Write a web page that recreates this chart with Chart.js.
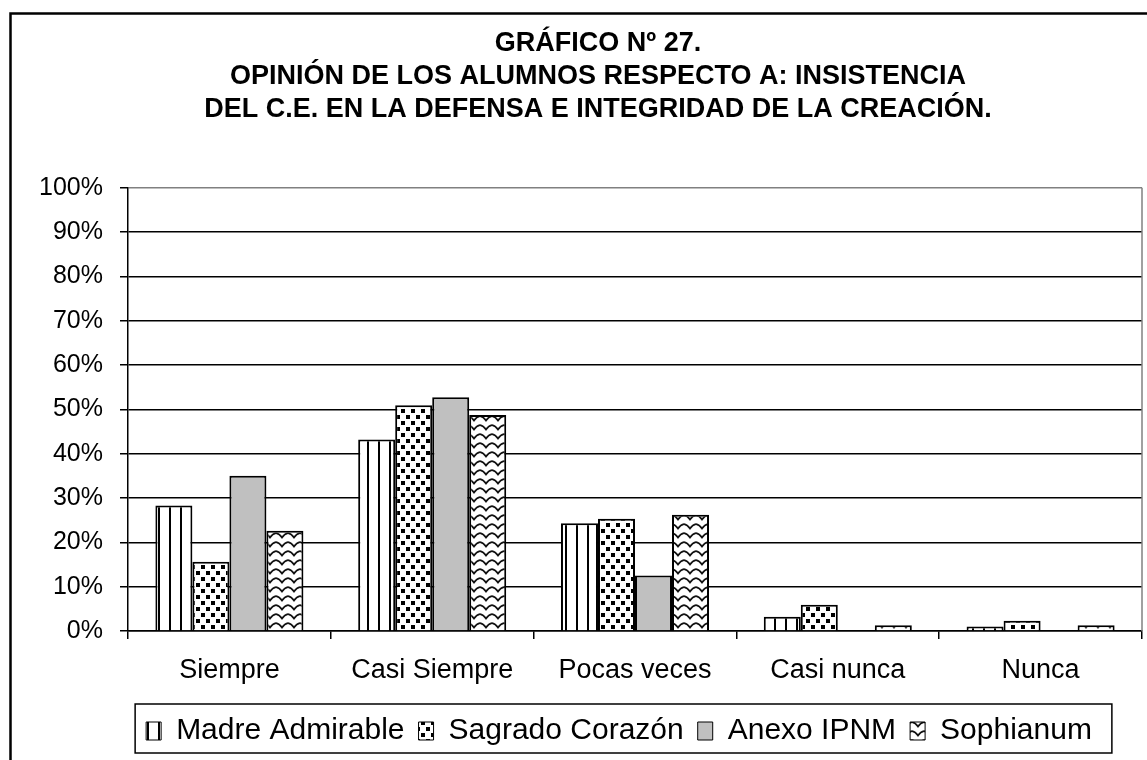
<!DOCTYPE html>
<html>
<head>
<meta charset="utf-8">
<script src="https://cdn.jsdelivr.net/npm/chart.js@4"></script>
<style>
  html, body { margin: 0; padding: 0; background: #fff; }
  #wrap { width: 1147px; height: 760px; }
</style>
</head>
<body>
<div id="wrap"><canvas id="chart-bars"></canvas></div>
<script>
const categories = ["Siempre", "Casi Siempre", "Pocas veces", "Casi nunca", "Nunca"];
const seriesNames = ["Madre Admirable", "Sagrado Corazón", "Anexo IPNM", "Sophianum"];

// percentages
const madreAdmirable = [28.3, 43.2, 24.3, 3.2, 1.0];
const sagradoCorazon = [15.6, 50.9, 25.3, 5.9, 2.3];
const anexoIpnm = [35.0, 52.7, 12.5, 0, 0];
const sophianum = [22.6, 48.7, 26.2, 1.3, 1.3];

const yTicks = [0, 10, 20, 30, 40, 50, 60, 70, 80, 90, 100];

const titleLines = [
	"GRÁFICO Nº 27.",
	"OPINIÓN DE LOS ALUMNOS RESPECTO A: INSISTENCIA",
	"DEL C.E. EN LA DEFENSA E INTEGRIDAD DE LA CREACIÓN.",
];

const FONT = "'Liberation Sans', Arial, sans-serif";
Chart.defaults.font.family = FONT;
Chart.defaults.color = "#000";

function makePattern(w, h, draw) {
	const c = document.createElement("canvas");
	c.width = w;
	c.height = h;
	const g = c.getContext("2d");
	g.fillStyle = "#fff";
	g.fillRect(0, 0, w, h);
	draw(g);
	return g.createPattern(c, "repeat");
}

const stripes = makePattern(11, 4, (g) => {
	g.fillStyle = "#000";
	g.fillRect(4, 0, 2, 4);
});

const dots = makePattern(10, 12, (g) => {
	g.fillStyle = "#000";
	g.fillRect(1, 1, 4, 4);
	g.fillRect(6, 7, 4, 4);
});

const waves = makePattern(12, 9, (g) => {
	g.strokeStyle = "#111";
	g.lineWidth = 1.8;
	g.beginPath();
	g.moveTo(-1, 2);
	g.quadraticCurveTo(3, 2, 6, 6.5);
	g.quadraticCurveTo(9, 2, 13, 2);
	g.stroke();
});

const fills = [stripes, dots, "#c0c0c0", waves];
const values = [madreAdmirable, sagradoCorazon, anexoIpnm, sophianum];

const titleShift = 12;
const legendShift = 33;
const legendPad = 14;

const chartDecor = {
	id: "chartDecor",
	beforeDraw(chart) {
		const { ctx } = chart;
		ctx.save();
		ctx.fillStyle = "#fff";
		ctx.fillRect(0, 0, chart.width, chart.height);
		ctx.strokeStyle = "#000";
		ctx.lineWidth = 2.5;
		ctx.strokeRect(10.5, 13.5, chart.width + 20, chart.height + 20);
		ctx.restore();
	},
	afterLayout(chart) {
		chart.titleBlock.left += titleShift;
		chart.titleBlock.right += titleShift;
		chart.legend.left += legendShift;
		chart.legend.right += legendShift;
	},
	afterDraw(chart) {
		const { ctx, chartArea, legend } = chart;
		ctx.save();
		// grey plot-area frame on the right
		ctx.strokeStyle = "#808080";
		ctx.lineWidth = 1.5;
		ctx.beginPath();
		ctx.moveTo(chartArea.right, chartArea.top);
		ctx.lineTo(chartArea.right, chartArea.bottom);
		ctx.stroke();

		// legend frame
		const lo = legend.options.labels;
		const fs = lo.font.size;
		ctx.font = `${fs}px ${FONT}`;
		let total = 0;
		legend.legendItems.forEach((it, i) => {
			total += lo.boxWidth + fs / 2 + ctx.measureText(it.text).width;
			if (i > 0) total += legendPad;
		});
		const start = (legend.left + legend.right) / 2 - total / 2;
		const cy = legend.top + legendPad + Math.max(fs, lo.boxHeight) / 2;
		ctx.strokeStyle = "#000";
		ctx.lineWidth = 1.5;
		ctx.strokeRect(start - 11, cy - 27, total + 31, 49);
		ctx.restore();
	},
};

const data = {
	labels: categories,
	datasets: seriesNames.map((name, i) => ({
		label: name,
		data: values[i],
		backgroundColor: fills[i],
		borderColor: "#000",
		borderWidth: 2,
		categoryPercentage: 0.73,
		barPercentage: 1,
	})),
};

const options = {
	responsive: true,
	maintainAspectRatio: false,
	animation: false,
	layout: {
		padding: { top: 27, left: 30, right: 5, bottom: 4 },
	},
	plugins: {
		title: {
			display: true,
			text: titleLines,
			color: "#000",
			font: { size: 27, weight: "bold", lineHeight: 1.23 },
			padding: { top: 0, bottom: 61 },
		},
		legend: {
			position: "bottom",
			labels: {
				boxWidth: 15,
				boxHeight: 18,
				padding: legendPad,
				color: "#000",
				font: { size: 30 },
				generateLabels: (chart) =>
					Chart.defaults.plugins.legend.labels
						.generateLabels(chart)
						.map((item) => ({ ...item, lineWidth: 1 })),
			},
		},
		tooltip: { enabled: false },
	},
	scales: {
		x: {
			afterFit: (scale) => {
				scale.height = 71;
			},
			grid: {
				display: true,
				drawOnChartArea: false,
				drawTicks: true,
				tickLength: 8,
				color: "#000",
				lineWidth: 1.5,
			},
			border: { display: true, color: "#000", width: 1.5 },
			ticks: {
				color: "#000",
				padding: 15,
				font: { size: 27 },
			},
		},
		y: {
			min: 0,
			max: 100,
			afterFit: (scale) => {
				scale.width = 98;
			},
			afterBuildTicks: (scale) => {
				scale.ticks = yTicks.map((v) => ({ value: v }));
			},
			grid: {
				color: (c) => (c.tick && c.tick.value === 100 ? "#808080" : "#000"),
				tickColor: "#000",
				lineWidth: 1.5,
				tickLength: 8,
			},
			border: { display: true, color: "#000", width: 1.5 },
			ticks: {
				color: "#000",
				padding: 17,
				font: { size: 25 },
				callback: (v) => v + "%",
			},
		},
	},
};

new Chart(document.getElementById("chart-bars"), {
	type: "bar",
	data: data,
	options: options,
	plugins: [chartDecor],
});
</script>
</body>
</html>
